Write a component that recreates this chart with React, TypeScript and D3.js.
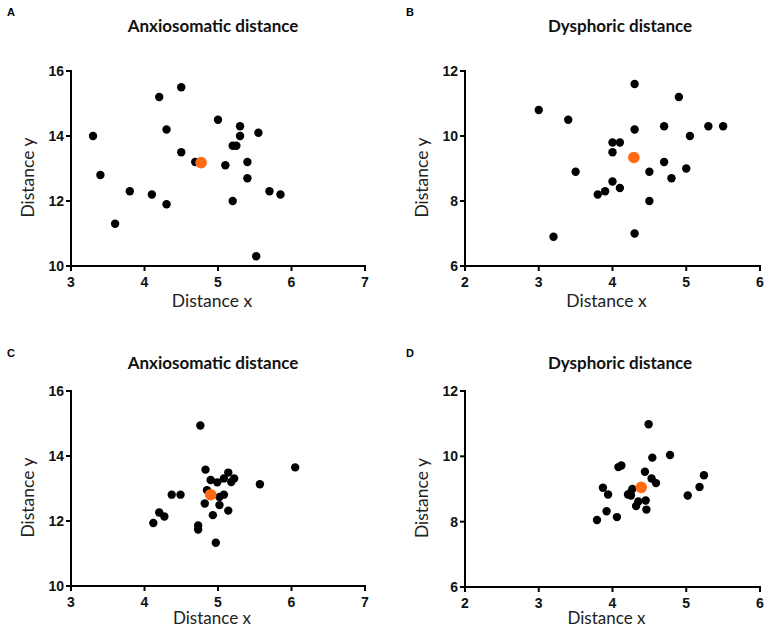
import React from 'react';
import * as d3 from 'd3';

// ---- Data ----
const panelLetters = ['A', 'B', 'C', 'D'];
const panelTitles = ['Anxiosomatic distance', 'Dysphoric distance', 'Anxiosomatic distance', 'Dysphoric distance'];
const xAxisLabel = 'Distance x';
const yAxisLabel = 'Distance y';

const xTicksAnx = [3, 4, 5, 6, 7];
const yTicksAnx = [10, 12, 14, 16];
const xTicksDys = [2, 3, 4, 5, 6];
const yTicksDys = [6, 8, 10, 12];

// Panel A
const aX = [3.3, 3.4, 3.6, 3.8, 4.1, 4.2, 4.3, 4.3, 4.5, 4.5, 4.69, 5.0, 5.1, 5.2, 5.25, 5.3, 5.3, 5.4, 5.4, 5.2, 5.55, 5.7, 5.85, 5.52];
const aY = [14.0, 12.8, 11.3, 12.3, 12.2, 15.2, 14.2, 11.9, 15.5, 13.5, 13.2, 14.5, 13.1, 13.7, 13.7, 14.3, 14.0, 13.2, 12.7, 12.0, 14.1, 12.3, 12.2, 10.3];
const aMean = [4.77, 13.18];

// Panel B
const bX = [3.0, 3.2, 3.4, 3.5, 3.8, 3.9, 4.0, 4.0, 4.0, 4.1, 4.1, 4.3, 4.3, 4.3, 4.5, 4.5, 4.7, 4.7, 4.8, 4.9, 5.0, 5.05, 5.3, 5.5];
const bY = [10.8, 6.9, 10.5, 8.9, 8.2, 8.3, 8.6, 9.5, 9.8, 9.8, 8.4, 11.6, 10.2, 7.0, 8.9, 8.0, 10.3, 9.2, 8.7, 11.2, 9.0, 10.0, 10.3, 10.3];
const bMean = [4.29, 9.34];

// Panel C
const cX = [4.76, 4.83, 5.14, 4.9, 4.99, 5.08, 5.18, 5.22, 5.57, 6.05, 4.85, 4.37, 4.49, 5.02, 5.08, 4.82, 5.02, 5.14, 4.93, 4.2, 4.27, 4.12, 4.73, 4.73, 4.97];
const cY = [14.94, 13.58, 13.49, 13.26, 13.19, 13.31, 13.2, 13.31, 13.13, 13.65, 12.95, 12.81, 12.81, 12.74, 12.81, 12.54, 12.49, 12.32, 12.18, 12.26, 12.14, 11.94, 11.86, 11.74, 11.33];
const cMean = [4.9, 12.81];

// Panel D
const dX = [4.49, 4.78, 4.54, 4.08, 4.12, 4.44, 5.24, 4.53, 4.59, 5.18, 3.87, 3.94, 4.27, 4.24, 4.21, 4.25, 5.02, 4.35, 4.45, 4.32, 4.46, 3.92, 4.06, 3.79];
const dY = [10.98, 10.04, 9.96, 9.67, 9.72, 9.53, 9.42, 9.32, 9.18, 9.06, 9.04, 8.83, 9.0, 8.88, 8.83, 8.8, 8.8, 8.62, 8.65, 8.48, 8.37, 8.32, 8.14, 8.05];
const dMean = [4.39, 9.05];

// ---- Layout / style ----
const W = 767;
const H = 629;
const ORANGE = '#ff6a13';
const tickFont = '"Liberation Sans", Arial, sans-serif';
const labelFont = 'Lato, "Open Sans", sans-serif';

const panels = [
  { xs: aX, ys: aY, mean: aMean, xTicks: xTicksAnx, yTicks: yTicksAnx, left: 71, right: 365, top: 71, bottom: 266, letterX: 7, letterY: 16, titleX: 213, titleY: 32, xLabelY: 307, xLabelSize: 17.5 },
  { xs: bX, ys: bY, mean: bMean, xTicks: xTicksDys, yTicks: yTicksDys, left: 465, right: 760, top: 71, bottom: 266, letterX: 406, letterY: 16, titleX: 620, titleY: 32, xLabelY: 307, xLabelSize: 17.5 },
  { xs: cX, ys: cY, mean: cMean, xTicks: xTicksAnx, yTicks: yTicksAnx, left: 71, right: 365, top: 391, bottom: 586, letterX: 7, letterY: 357, titleX: 213, titleY: 369, xLabelY: 624, xLabelSize: 17 },
  { xs: dX, ys: dY, mean: dMean, xTicks: xTicksDys, yTicks: yTicksDys, left: 465, right: 760, top: 391, bottom: 587, letterX: 406, letterY: 357, titleX: 620, titleY: 369, xLabelY: 624, xLabelSize: 17 },
];

function Panel({ p, i }: { p: any; i: number }) {
  const x = d3.scaleLinear().domain(d3.extent(p.xTicks) as [number, number]).range([p.left, p.right]);
  const y = d3.scaleLinear().domain(d3.extent(p.yTicks) as [number, number]).range([p.bottom, p.top]);
  const pts = p.xs.map((v: number, k: number) => [v, p.ys[k]]);
  return (
    <g>
      <text x={p.letterX} y={p.letterY} fontFamily={tickFont} fontWeight="bold" fontSize={11} fill="#000">{panelLetters[i]}</text>
      <text x={p.titleX} y={p.titleY} textAnchor="middle" fontFamily={labelFont} fontWeight="bold" fontSize={17} fill="#111">{panelTitles[i]}</text>
      {/* axes */}
      <line x1={p.left} x2={p.left} y1={p.top - 1} y2={p.bottom + 1} stroke="#000" strokeWidth={2} />
      <line x1={p.left - 1} x2={p.right + 1} y1={p.bottom} y2={p.bottom} stroke="#000" strokeWidth={2} />
      {p.yTicks.map((t: number) => (
        <g key={'y' + t}>
          <line x1={p.left - 5} x2={p.left} y1={y(t)} y2={y(t)} stroke="#000" strokeWidth={2} />
          <text x={p.left - 7} y={y(t) + 5} textAnchor="end" fontFamily={tickFont} fontWeight="bold" fontSize={14} fill="#111">{t}</text>
        </g>
      ))}
      {p.xTicks.map((t: number) => (
        <g key={'x' + t}>
          <line x1={x(t)} x2={x(t)} y1={p.bottom} y2={p.bottom + 5} stroke="#000" strokeWidth={2} />
          <text x={x(t)} y={p.bottom + 21} textAnchor="middle" fontFamily={tickFont} fontWeight="bold" fontSize={14} fill="#111">{t}</text>
        </g>
      ))}
      <text x={(p.left + p.right) / 2 - 6} y={p.xLabelY} textAnchor="middle" fontFamily={labelFont} fontSize={p.xLabelSize} fill="#222">{xAxisLabel}</text>
      <text transform={`translate(${p.left - 37},${(p.top + p.bottom) / 2 + 9}) rotate(-90)`} textAnchor="middle" fontFamily={labelFont} fontSize={17.5} fill="#222">{yAxisLabel}</text>
      {pts.map((d: number[], k: number) => (
        <circle key={k} cx={x(d[0])} cy={y(d[1])} r={4.2} fill="#000" />
      ))}
      <circle cx={x(p.mean[0])} cy={y(p.mean[1])} r={5.8} fill={ORANGE} />
    </g>
  );
}

export default function App() {
  return (
    <svg width={W} height={H} style={{ position: 'absolute', left: 0, top: 0, background: '#fff' }}>
      <rect width={W} height={H} fill="#fff" />
      {panels.map((p, i) => (
        <Panel key={i} p={p} i={i} />
      ))}
    </svg>
  );
}
